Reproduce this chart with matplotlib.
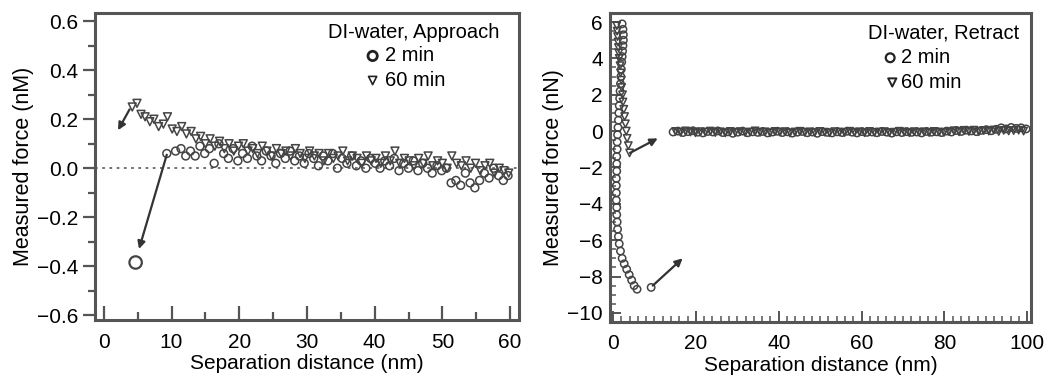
import matplotlib
matplotlib.use("Agg")
import matplotlib.pyplot as plt
from matplotlib.ticker import MultipleLocator

plt.rcParams['font.family'] = ['Liberation Sans', 'DejaVu Sans']
plt.rcParams['font.size'] = 14.5

# ---------------- Data: Approach (left) ----------------
app_2min_x = [4.7, 9.3, 10.6, 11.4, 12.1, 12.8, 13.5, 14.2, 14.9, 15.6, 16.3, 17.0, 17.7,
              18.4, 19.1, 19.8, 20.5, 21.2, 21.9, 22.6, 23.3, 24.0, 24.7, 25.4, 26.1,
              26.8, 27.5, 28.2, 28.9, 29.6, 30.3, 31.0, 31.7, 32.4, 33.1, 33.8, 34.5,
              35.2, 35.9, 36.6, 37.3, 38.0, 38.7, 39.4, 40.1, 40.8, 41.5, 42.2, 42.9,
              43.6, 44.3, 45.0, 45.7, 46.4, 47.1, 47.8, 48.5, 49.2, 49.9, 50.6, 51.3,
              52.0, 52.7, 53.4, 54.1, 54.8, 55.5, 56.2, 56.9, 57.6, 58.3, 59.0, 59.7]
app_2min_y = [-0.385, 0.06, 0.07, 0.08, 0.05, 0.07, 0.05, 0.09, 0.06, 0.08, 0.02, 0.10, 0.06,
              0.04, 0.08, 0.03, 0.06, 0.04, 0.09, 0.05, 0.03, 0.07, 0.05, 0.02, 0.06,
              0.04, 0.07, 0.03, 0.05, 0.02, 0.06, 0.04, 0.01, 0.05, 0.03, 0.06, 0.00,
              0.04, 0.02, 0.05, 0.01, 0.03, 0.00, 0.04, 0.02, 0.00, 0.03, 0.01, 0.04,
              -0.01, 0.02, 0.00, 0.03, -0.01, 0.02, 0.00, -0.02, 0.01, -0.01, 0.00, -0.06,
              -0.05, -0.07, -0.02, -0.06, -0.08, -0.05, -0.02, -0.04, 0.00, -0.03, -0.05, -0.03]

app_60min_x = [4.2, 4.9, 5.5, 6.1, 6.8, 7.4, 8.1, 8.8, 9.4, 10.1, 10.8, 11.5, 12.2, 12.9,
               13.6, 14.3, 15.0, 15.7, 16.4, 17.1, 17.8, 18.5, 19.2, 19.9, 20.6, 21.3,
               22.0, 22.7, 23.4, 24.1, 24.8, 25.5, 26.2, 26.9, 27.6, 28.3, 29.0, 29.7,
               30.4, 31.1, 31.8, 32.5, 33.2, 33.9, 34.6, 35.3, 36.0, 36.7, 37.4, 38.1,
               38.8, 39.5, 40.2, 40.9, 41.6, 42.3, 43.0, 43.7, 44.4, 45.1, 45.8, 46.5,
               47.2, 47.9, 48.6, 49.3, 50.0, 50.7, 51.4, 52.1, 52.8, 53.5, 54.2, 54.9,
               55.6, 56.3, 57.0, 57.7, 58.4, 59.1, 59.8]
app_60min_y = [0.25, 0.265, 0.22, 0.21, 0.19, 0.20, 0.17, 0.18, 0.21, 0.16, 0.15, 0.17, 0.14, 0.15,
               0.12, 0.13, 0.10, 0.12, 0.09, 0.11, 0.08, 0.10, 0.07, 0.09, 0.10, 0.07,
               0.08, 0.06, 0.09, 0.07, 0.05, 0.08, 0.06, 0.07, 0.05, 0.08, 0.06, 0.04,
               0.07, 0.05, 0.06, 0.03, 0.06, 0.04, 0.05, 0.07, 0.03, 0.05, 0.04, 0.02,
               0.05, 0.03, 0.04, 0.02, 0.05, 0.03, 0.07, 0.02, 0.04, 0.03, 0.01, 0.04,
               0.02, 0.05, 0.01, 0.03, 0.02, 0.00, 0.05, 0.02, 0.01, 0.03, 0.00, 0.02,
               -0.01, 0.01, 0.02, -0.02, 0.00, -0.01, -0.02]

# ---------------- Data: Retract (right) ----------------
ret_2min_x = [2.2, 2.4, 2.5, 2.5, 2.4, 2.3, 2.2, 2.1, 2.0, 1.9, 1.8, 1.7, 1.6, 1.5, 1.4,
              1.3, 1.2, 1.1, 1.0, 1.0, 0.9, 0.9, 0.9, 0.8, 0.8, 0.8, 0.8, 0.9, 0.9, 1.0,
              1.1, 1.3, 1.5, 1.8, 2.2, 2.7, 3.3, 3.9, 4.5, 5.1, 5.8, 9.2,
              14.5, 15.7, 16.9, 18.1, 19.3, 20.5, 21.7, 22.9, 24.1, 25.3, 26.5, 27.7,
              28.9, 30.1, 31.3, 32.5, 33.7, 34.9, 36.1, 37.3, 38.5, 39.7, 40.9, 42.1,
              43.3, 44.5, 45.7, 46.9, 48.1, 49.3, 50.5, 51.7, 52.9, 54.1, 55.3, 56.5,
              57.7, 58.9, 60.1, 61.3, 62.5, 63.7, 64.9, 66.1, 67.3, 68.5, 69.7, 70.9,
              72.1, 73.3, 74.5, 75.7, 76.9, 78.1, 79.3, 80.5, 81.7, 82.9, 84.1, 85.3,
              86.5, 87.7, 88.9, 90.1, 91.3, 92.5, 93.7, 94.9, 96.1, 97.3, 98.5, 99.7]
ret_2min_y = [5.9, 5.6, 5.3, 5.0, 4.7, 4.4, 4.1, 3.8, 3.4, 3.0, 2.6, 2.2, 1.8, 1.4, 1.0,
              0.6, 0.2, -0.2, -0.6, -1.0, -1.4, -1.8, -2.2, -2.6, -3.0, -3.4, -3.8, -4.2, -4.6, -5.0,
              -5.4, -5.8, -6.2, -6.6, -7.0, -7.3, -7.6, -7.9, -8.2, -8.5, -8.7, -8.6,
              -0.05, 0.00, -0.08, -0.03, 0.02, -0.06, -0.10, -0.02, -0.05, 0.01, -0.08, -0.04,
              -0.12, -0.06, 0.00, -0.09, -0.04, -0.07, -0.02, -0.10, -0.05, -0.01, -0.08, -0.04,
              -0.11, -0.06, -0.02, -0.09, -0.05, -0.12, -0.03, -0.07, -0.10, -0.04, -0.08, -0.01,
              -0.06, -0.10, -0.03, -0.07, -0.05, -0.09, -0.02, -0.06, -0.11, -0.04, -0.08, -0.03,
              -0.07, -0.05, -0.10, -0.02, -0.06, -0.04, -0.08, 0.00, -0.05, 0.03, -0.02, 0.05,
              0.01, -0.03, 0.04, 0.08, 0.02, 0.10, 0.18, 0.12, 0.20, 0.15, 0.18, 0.12]

ret_60min_x = [0.9, 1.0, 1.1, 1.2, 1.3, 1.4, 1.5, 1.7, 1.8, 2.0, 2.1, 2.3, 2.4, 2.6, 2.8,
               3.0, 3.2, 3.4, 3.7, 4.0,
               15.1, 16.3, 17.5, 18.7, 19.9, 21.1, 22.3, 23.5, 24.7, 25.9, 27.1, 28.3,
               29.5, 30.7, 31.9, 33.1, 34.3, 35.5, 36.7, 37.9, 39.1, 40.3, 41.5, 42.7,
               43.9, 45.1, 46.3, 47.5, 48.7, 49.9, 51.1, 52.3, 53.5, 54.7, 55.9, 57.1,
               58.3, 59.5, 60.7, 61.9, 63.1, 64.3, 65.5, 66.7, 67.9, 69.1, 70.3, 71.5,
               72.7, 73.9, 75.1, 76.3, 77.5, 78.7, 79.9, 81.1, 82.3, 83.5, 84.7, 85.9,
               87.1, 88.3, 89.5, 90.7, 91.9, 93.1, 94.3, 95.5, 96.7, 97.9, 99.1]
ret_60min_y = [5.8, 5.5, 5.2, 4.9, 4.6, 4.3, 4.0, 3.6, 3.2, 2.8, 2.4, 2.0, 1.6, 1.2, 0.8,
               0.4, 0.0, -0.4, -0.8, -1.2,
               -0.02, -0.07, 0.01, -0.05, -0.09, -0.03, -0.06, 0.00, -0.08, -0.04, -0.10, -0.02,
               -0.06, -0.03, -0.08, -0.05, 0.01, -0.07, -0.04, -0.09, -0.02, -0.06, -0.03, -0.10,
               -0.05, -0.01, -0.07, -0.04, -0.08, -0.02, -0.06, -0.09, -0.03, -0.05, -0.08, -0.01,
               -0.06, -0.04, -0.09, -0.02, -0.07, -0.05, -0.03, -0.08, -0.06, -0.01, -0.05, -0.09,
               -0.03, -0.06, -0.04, -0.08, -0.02, -0.05, -0.07, -0.03, 0.02, -0.04, 0.04, -0.02,
               0.05, -0.03, 0.03, 0.00, 0.06, -0.02, 0.04, 0.01, 0.03, 0.05, 0.00]

# arrows (start -> end)
left_arrows = [((3.8, 0.24), (2.1, 0.155)), ((9.3, 0.055), (5.2, -0.33))]
right_arrows = [((4.1, -1.2), (10.8, -0.4)), ((9.6, -8.5), (16.8, -7.0))]

GRAY = '#444444'
SPINE = '#555555'
TICKFS = 15

fig = plt.figure(figsize=(10.44, 3.81), dpi=100)
axL = fig.add_axes([0.091, 0.160, 0.406, 0.806])
axR = fig.add_axes([0.584, 0.155, 0.404, 0.811])

mk = dict(facecolors='none', edgecolors=GRAY, linewidths=1.1)

# ---- Left panel ----
axL.axhline(0, color='#666666', lw=1.3, ls=(0, (1.5, 2.5)), zorder=1)
axL.scatter(app_60min_x, app_60min_y, marker='v', s=32, zorder=3, **mk)
axL.scatter(app_2min_x[1:], app_2min_y[1:], marker='o', s=32, zorder=3, **mk)
axL.scatter(app_2min_x[:1], app_2min_y[:1], marker='o', s=80, zorder=3,
            facecolors='none', edgecolors=GRAY, linewidths=1.6)
for (s, e) in left_arrows:
    axL.annotate('', xy=e, xytext=s,
                 arrowprops=dict(arrowstyle='-|>', color='#333333', lw=1.6,
                                 mutation_scale=11, shrinkA=0, shrinkB=0), zorder=4)
axL.set_xlim(-1.3, 61.3)
axL.set_ylim(-0.62, 0.634)
axL.xaxis.set_major_locator(MultipleLocator(10))
axL.xaxis.set_minor_locator(MultipleLocator(5))
axL.yaxis.set_minor_locator(MultipleLocator(0.1))
axL.set_yticks([-0.6, -0.4, -0.2, 0.0, 0.2, 0.4, 0.6])
axL.set_yticklabels(['\u22120.6', '\u22120.4', '\u22120.2', '0.0', '0.2', '0.4', '0.6'])
axL.tick_params(axis='x', which='major', direction='in', length=10, width=1.6, color=SPINE,
                pad=9, labelsize=TICKFS)
axL.tick_params(axis='x', which='minor', direction='in', length=6, width=1.6, color=SPINE)
axL.tick_params(axis='y', which='major', direction='out', length=9, width=1.6, color=SPINE,
                pad=3, labelsize=TICKFS)
axL.tick_params(axis='y', which='minor', direction='out', length=5, width=1.6, color=SPINE)
axL.set_xlabel('Separation distance (nm)', fontsize=15, labelpad=2)
axL.set_ylabel('Measured force (nM)', fontsize=15.5, labelpad=2)

# legend (manual)
axL.text(0.955, 0.935, 'DI-water, Approach', transform=axL.transAxes, ha='right', va='center')
axL.scatter([0.655], [0.86], transform=axL.transAxes, marker='o', s=45,
            facecolors='none', edgecolors='#222222', linewidths=2.0, clip_on=False)
axL.text(0.685, 0.86, '2 min', transform=axL.transAxes, ha='left', va='center')
axL.scatter([0.655], [0.78], transform=axL.transAxes, marker='v', s=35,
            facecolors='none', edgecolors='#222222', linewidths=1.2, clip_on=False)
axL.text(0.685, 0.78, '60 min', transform=axL.transAxes, ha='left', va='center')

# ---- Right panel ----
axR.scatter(ret_60min_x, ret_60min_y, marker='v', s=28, zorder=3, **mk)
axR.scatter(ret_2min_x, ret_2min_y, marker='o', s=28, zorder=3, **mk)
for (s, e) in right_arrows:
    axR.annotate('', xy=e, xytext=s,
                 arrowprops=dict(arrowstyle='-|>', color='#333333', lw=1.6,
                                 mutation_scale=11, shrinkA=0, shrinkB=0), zorder=4)
axR.set_xlim(-0.8, 101)
axR.set_ylim(-10.5, 6.5)
axR.xaxis.set_major_locator(MultipleLocator(20))
axR.xaxis.set_minor_locator(MultipleLocator(2))
axR.set_yticks([-10, -8, -6, -4, -2, 0, 2, 4, 6])
axR.set_yticklabels(['\u221210', '\u22128', '\u22126', '\u22124', '\u22122', '0', '2', '4', '6'])
axR.yaxis.set_minor_locator(MultipleLocator(0.5))
axR.tick_params(axis='both', which='major', direction='in', length=8, width=1.4, color=SPINE,
                labelsize=TICKFS)
axR.tick_params(axis='both', which='minor', direction='in', length=4, width=1.1, color=SPINE)
axR.tick_params(axis='x', which='major', pad=9)
axR.tick_params(axis='y', which='major', pad=5)
axR.set_xlabel('Separation distance (nm)', fontsize=15, labelpad=2)
axR.set_ylabel('Measured force (nN)', fontsize=15.5, labelpad=2)

axR.text(0.97, 0.935, 'DI-water, Retract', transform=axR.transAxes, ha='right', va='center')
axR.scatter([0.665], [0.855], transform=axR.transAxes, marker='o', s=40,
            facecolors='none', edgecolors='#222222', linewidths=1.6, clip_on=False)
axR.text(0.69, 0.855, '2 min', transform=axR.transAxes, ha='left', va='center')
axR.scatter([0.67], [0.775], transform=axR.transAxes, marker='v', s=35,
            facecolors='none', edgecolors='#222222', linewidths=1.4, clip_on=False)
axR.text(0.69, 0.775, '60 min', transform=axR.transAxes, ha='left', va='center')

for ax in (axL, axR):
    for sp in ax.spines.values():
        sp.set_color(SPINE)
        sp.set_linewidth(2.2)

fig.savefig('out.png', dpi=100)
